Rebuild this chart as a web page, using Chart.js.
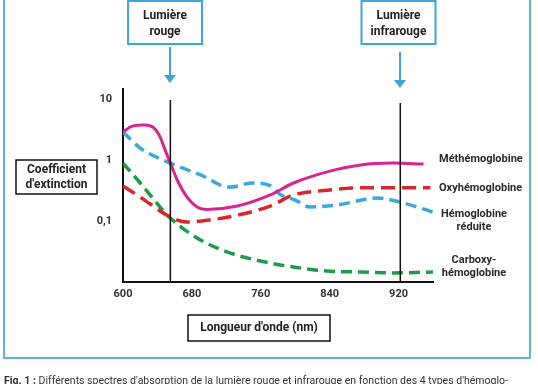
<!DOCTYPE html>
<html>
<head>
<meta charset="utf-8">
<script src="https://cdn.jsdelivr.net/npm/chart.js@4/dist/chart.umd.min.js"></script>
<style>
  body { margin: 0; background: #fff; }
  #wrap { width: 538px; height: 384px; }
</style>
</head>
<body>
<div id="wrap"><canvas id="spectre" width="538" height="384"></canvas></div>
<script>
// Spectres d'absorption des hémoglobines (échelle log)

const xTicks = [600, 680, 760, 840, 920];
const yTicks = [0.1, 1, 10];

const methWl = [600, 611, 625, 635, 643, 649, 655, 663, 674, 686, 698, 733, 771, 798, 837, 876, 914, 949];
const methVals = [2.9, 3.6, 3.75, 3.45, 2.4, 1.45, 0.89, 0.47, 0.25, 0.17, 0.155, 0.176, 0.267, 0.42, 0.64, 0.83, 0.89, 0.86];

const oxyWl = [600, 620, 655, 674, 701, 733, 771, 798, 837, 876, 914, 957];
const oxyVals = [0.375, 0.247, 0.116, 0.096, 0.104, 0.125, 0.176, 0.267, 0.32, 0.35, 0.35, 0.35];

const reduiteWl = [600, 620, 655, 690, 724, 751, 771, 783, 800, 817, 849, 895, 926, 960];
const reduiteVals = [2.9, 1.57, 0.89, 0.57, 0.36, 0.42, 0.38, 0.27, 0.22, 0.17, 0.183, 0.238, 0.197, 0.14];

const carboxyWl = [600, 620, 655, 690, 724, 771, 798, 837, 876, 914, 960];
const carboxyVals = [0.89, 0.42, 0.112, 0.049, 0.030, 0.0205, 0.0176, 0.0151, 0.0146, 0.0141, 0.0146];

const rougeWl = 655;
const infraWl = 922;
const markerTop = [9.6, 8.6];
const markerBottom = 0.01;

const pts = (xs, ys) => xs.map((x, i) => ({ x: x, y: ys[i] }));

const curve = (label, xs, ys, color, dash, width) => ({
    label: label,
    data: pts(xs, ys),
    borderColor: color,
    borderWidth: width,
    borderDash: dash,
    borderCapStyle: 'butt',
    cubicInterpolationMode: 'monotone',
    pointRadius: 0,
    fill: false
});

const marker = (wl, top) => ({
    label: 'marker',
    data: [{ x: wl, y: top }, { x: wl, y: markerBottom }],
    borderColor: '#111',
    borderWidth: 1.5,
    pointRadius: 0
});

const BLUE = '#3ba7d6';

const deco = {
    id: 'deco',
    beforeDraw(chart) {
        const c = chart.ctx;
        c.save();
        c.fillStyle = '#fff';
        c.fillRect(0, 0, chart.width, chart.height);
        c.strokeStyle = '#5ab6d8';
        c.lineWidth = 2;
        c.strokeRect(4, -4, 526, 362);
        c.restore();
    },
    afterDraw(chart) {
        const c = chart.ctx;
        const x = chart.scales.x;
        c.save();

        // encadrés du haut + flèches
        const boxes = [
            { wl: rougeWl, dx: -5, lines: ['Lumière', 'rouge'], y0: 47, tip: 83 },
            { wl: infraWl, dx: -1.5, lines: ['Lumière', 'infrarouge'], y0: 52, tip: 88 }
        ];
        boxes.forEach(b => {
            const ax = Math.round(x.getPixelForValue(b.wl));
            const cx = ax + b.dx;
            c.fillStyle = '#fff';
            c.fillRect(cx - 37, 1, 74, 43);
            c.strokeStyle = BLUE;
            c.lineWidth = 2;
            c.strokeRect(cx - 37, 1, 74, 43);
            c.fillStyle = '#222';
            c.font = 'bold 12px Roboto';
            c.textAlign = 'center';
            c.textBaseline = 'middle';
            c.fillText(b.lines[0], cx, 16);
            c.fillText(b.lines[1], cx, 32);
            c.beginPath();
            c.moveTo(ax, b.y0);
            c.lineTo(ax, b.tip - 6);
            c.stroke();
            c.fillStyle = BLUE;
            c.beginPath();
            c.moveTo(ax - 6, b.tip - 8);
            c.lineTo(ax + 6, b.tip - 8);
            c.lineTo(ax, b.tip);
            c.closePath();
            c.fill();
        });

        // titres d'axes encadrés
        c.strokeStyle = '#111';
        c.lineWidth = 1.5;
        c.strokeRect(16, 160, 81, 34);
        c.strokeRect(188, 315, 142, 26);
        c.fillStyle = '#222';
        c.font = 'bold 12px Roboto';
        c.textAlign = 'center';
        c.textBaseline = 'middle';
        c.fillText('Coefficient', 56.5, 170);
        c.fillText("d'extinction", 56.5, 185);
        c.fillText("Longueur d'onde (nm)", 259, 328);

        // noms des courbes
        c.font = 'bold 11px Roboto';
        c.fillStyle = '#2a2a2a';
        c.textAlign = 'left';
        c.fillText('Méthémoglobine', 439, 159);
        c.fillText('Oxyhémoglobine', 439, 188);
        c.textAlign = 'center';
        c.fillText('Hémoglobine', 474, 214);
        c.fillText('réduite', 474, 227);
        c.fillText('Carboxy-', 474, 260);
        c.fillText('hémoglobine', 474, 273);

        // légende de la figure (tronquée en bas, comme l'original)
        const lead = 'Fig. 1 : ';
        const rest = "Différents spectres d'absorption de la lumière rouge et infrarouge en fonction des 4 types d'hémoglo-";
        c.font = 'bold 11px Roboto';
        const w1 = c.measureText(lead).width;
        c.font = '11px Roboto';
        const w2 = c.measureText(rest).width;
        const k = 504 / (w1 + w2);
        c.translate(4, 384);
        c.scale(k, 1);
        c.textAlign = 'left';
        c.textBaseline = 'alphabetic';
        c.fillStyle = '#333';
        c.font = 'bold 11px Roboto';
        c.fillText(lead, 0, 0);
        c.font = '11px Roboto';
        c.fillText(rest, w1, 0);
        c.restore();
    }
};

new Chart(document.getElementById('spectre').getContext('2d'), {
    type: 'line',
    data: {
        datasets: [
            marker(rougeWl, markerTop[0]),
            marker(infraWl, markerTop[1]),
            curve('Méthémoglobine', methWl, methVals, '#d8248e', [], 3),
            curve('Hémoglobine réduite', reduiteWl, reduiteVals, '#3aa8dc', [11, 6], 3.5),
            curve('Oxyhémoglobine', oxyWl, oxyVals, '#d9262b', [14, 7], 3.5),
            curve('Carboxyhémoglobine', carboxyWl, carboxyVals, '#1f9a4b', [11, 6], 3.5)
        ]
    },
    options: {
        responsive: false,
        animation: false,
        events: [],
        layout: { padding: { top: 89, right: 105, left: 0, bottom: 0 } },
        plugins: {
            legend: { display: false },
            tooltip: { enabled: false }
        },
        scales: {
            x: {
                type: 'linear',
                min: 600,
                max: 960,
                grid: { display: false, drawTicks: false },
                border: { color: '#111', width: 2 },
                ticks: {
                    padding: 6,
                    color: '#333',
                    font: { family: 'Roboto', weight: 'bold', size: 11 }
                },
                afterBuildTicks: s => { s.ticks = xTicks.map(v => ({ value: v })); },
                afterFit: s => { s.height = 102; }
            },
            y: {
                type: 'logarithmic',
                min: 0.01,
                max: 14.6,
                grid: { display: false, drawTicks: false },
                border: { color: '#111', width: 2 },
                ticks: {
                    padding: 11,
                    color: '#333',
                    font: { family: 'Roboto', weight: 'bold', size: 11 },
                    callback: v => v === 0.1 ? '0,1' : String(v)
                },
                afterBuildTicks: s => { s.ticks = yTicks.map(v => ({ value: v })); },
                afterFit: s => { s.width = 123; }
            }
        }
    },
    plugins: [deco]
});
</script>
</body>
</html>
